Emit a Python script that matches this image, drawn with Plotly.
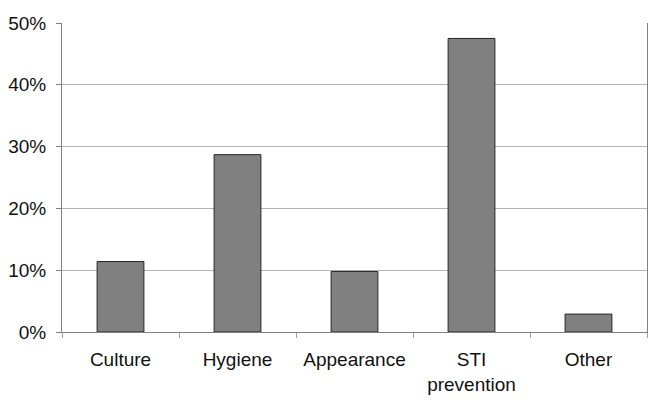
import plotly.graph_objects as go

# Data
categories = ["Culture", "Hygiene", "Appearance", "STI<br>prevention", "Other"]
shares = [0.114, 0.287, 0.098, 0.475, 0.029]
y_ticks = [0, 0.1, 0.2, 0.3, 0.4, 0.5]

font = "Liberation Sans, Arial, sans-serif"

fig = go.Figure(data=[go.Bar(
    x=categories, y=shares,
    marker=dict(color="#808080", line=dict(color="#262626", width=1)),
    width=0.4,
)])

# the page body adds 8px on the left/top, so the figure is a bit smaller
fig.update_layout(
    width=648, height=396,
    margin=dict(l=54, r=9, t=15, b=72),
    paper_bgcolor="white", plot_bgcolor="white",
    showlegend=False,
    font=dict(family=font, size=19, color="#111111"),
)

fig.update_xaxes(
    automargin=False,
    showline=True, linecolor="#808080", linewidth=1,
    ticks="outside", ticklen=5, tickcolor="#a0a0a0",
    tickson="boundaries", showgrid=False,
    tickfont=dict(size=19), ticklabelstandoff=10, range=[-0.5, 4.5],
)
fig.update_yaxes(
    automargin=False,
    range=[0, 0.5], tickvals=y_ticks, tickformat=".0%",
    showline=True, linecolor="#808080", linewidth=1, mirror=True,
    ticks="outside", ticklen=5, tickcolor="#808080",
    showgrid=True, gridcolor="#b4b4b4", gridwidth=1,
    tickfont=dict(size=19), ticklabelstandoff=6,
    zeroline=False,
)

# thin light frame line at the right edge of the picture
fig.add_shape(type="line", xref="paper", yref="paper",
              x0=1.012, x1=1.012, y0=-0.3, y1=1.1,
              line=dict(color="#d6d6d6", width=1))

fig.write_html("out.html")
